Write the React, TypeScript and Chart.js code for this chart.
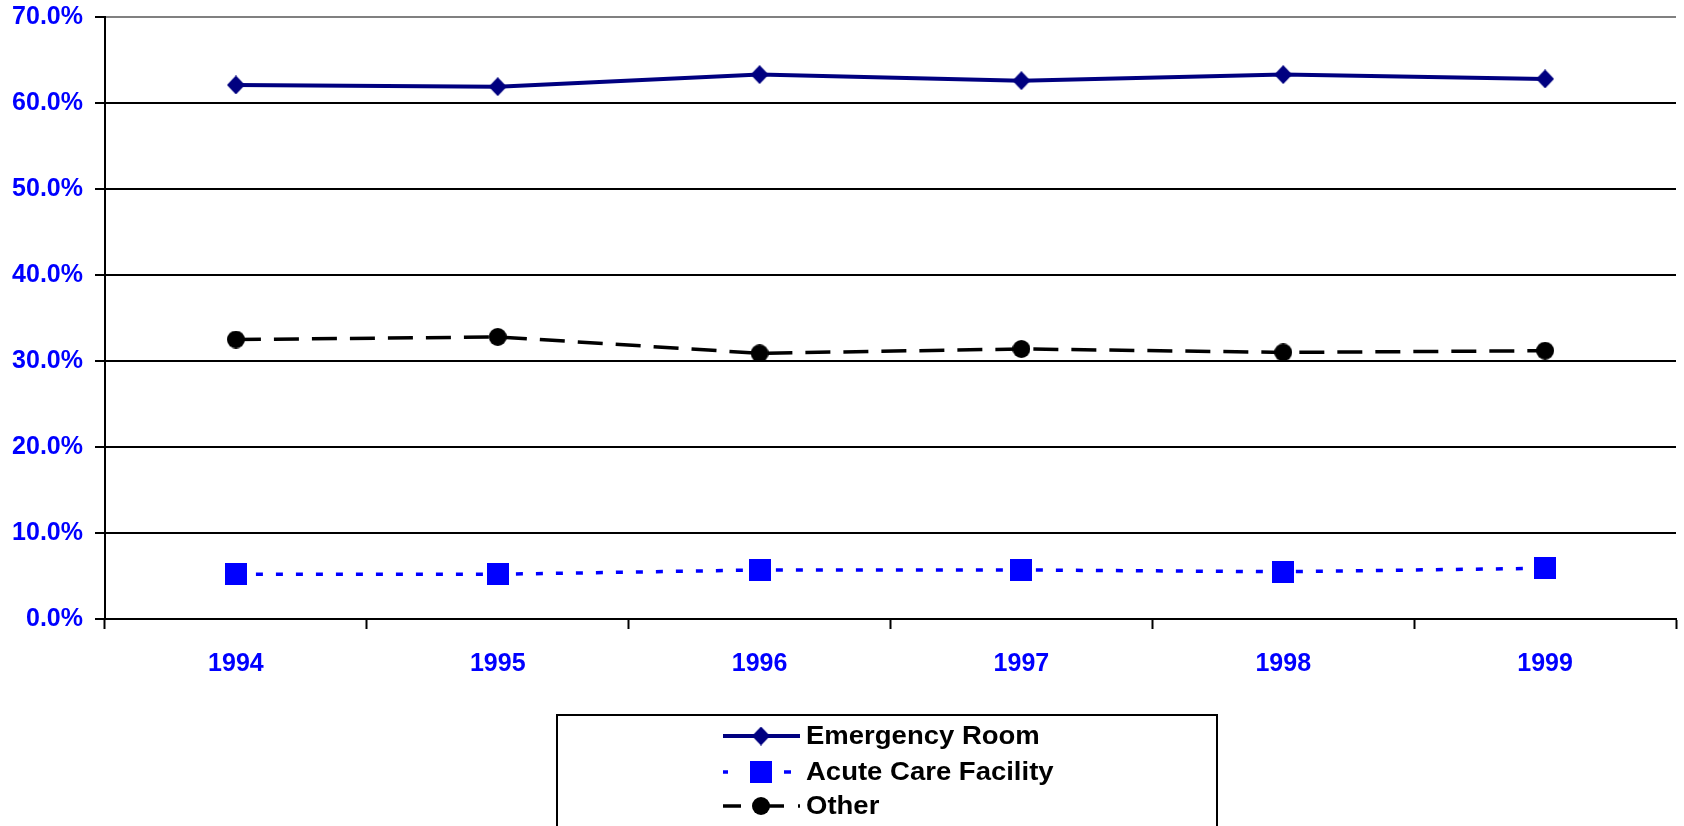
import React, { useEffect, useRef } from 'react';
import { Chart, registerables } from 'chart.js';

Chart.register(...registerables);

const years = ['1994', '1995', '1996', '1997', '1998', '1999'];
const emergencyRoom = [62.1, 61.9, 63.3, 62.6, 63.3, 62.8];
const acuteCare = [5.2, 5.2, 5.7, 5.7, 5.5, 5.9];
const other = [32.5, 32.8, 30.9, 31.4, 31.0, 31.2];
const seriesNames = ['Emergency Room', 'Acute Care Facility', 'Other'];
const yMin = 0;
const yMax = 70;
const yStep = 10;

const FONT = '"Liberation Sans", Arial, Helvetica, sans-serif';
const W = 1684;
const H = 826;

function makeMarker(shape: string, w: number, h: number, color: string) {
  const c = document.createElement('canvas');
  c.width = w;
  c.height = h;
  const ctx = c.getContext('2d') as CanvasRenderingContext2D;
  ctx.fillStyle = color;
  ctx.beginPath();
  if (shape === 'diamond') {
    ctx.moveTo(w / 2, 0);
    ctx.lineTo(w, h / 2);
    ctx.lineTo(w / 2, h);
    ctx.lineTo(0, h / 2);
    ctx.closePath();
  } else if (shape === 'square') {
    ctx.rect(0, 0, w, h);
  } else {
    ctx.ellipse(w / 2, h / 2, w / 2, h / 2, 0, 0, Math.PI * 2);
  }
  ctx.fill();
  return c;
}

// legend sample segments [x0, x1] per row (styling of the legend box)
const legendSegments = [
  [[723, 800]],
  [[723, 728], [784, 791]],
  [[723, 741], [767, 784], [798, 800]],
];

const legendPlugin = {
  id: 'boxLegend',
  afterDraw(chart: any) {
    const ctx = chart.ctx as CanvasRenderingContext2D;
    ctx.save();
    ctx.strokeStyle = '#000';
    ctx.lineWidth = 2;
    ctx.setLineDash([]);
    ctx.strokeRect(557, 715, 660, 200);
    const rows = [736, 772, 806];
    chart.data.datasets.forEach((ds: any, i: number) => {
      const y = rows[i];
      ctx.strokeStyle = ds.borderColor;
      ctx.lineWidth = ds.borderWidth;
      ctx.setLineDash([]);
      legendSegments[i].forEach((seg) => {
        ctx.beginPath();
        ctx.moveTo(seg[0], y);
        ctx.lineTo(seg[1], y);
        ctx.stroke();
      });
      const img = ds.pointStyle as HTMLCanvasElement;
      ctx.drawImage(img, 761 - img.width / 2, y - img.height / 2);
      ctx.save();
      ctx.translate(806, y);
      ctx.scale(1.1, 1);
      ctx.fillStyle = '#000';
      ctx.font = `bold 25px ${FONT}`;
      ctx.textBaseline = 'middle';
      ctx.textAlign = 'left';
      ctx.fillText(ds.label, 0, 1);
      ctx.restore();
    });
    ctx.restore();
  },
};

export default function App() {
  const ref = useRef<HTMLCanvasElement | null>(null);

  useEffect(() => {
    if (!ref.current) return;
    const diamond = makeMarker('diamond', 18, 19, '#000080');
    const square = makeMarker('square', 22, 22, '#0000FF');
    const circle = makeMarker('circle', 18, 18, '#000000');

    const chart = new Chart(ref.current, {
      type: 'line',
      data: {
        labels: years,
        datasets: [
          {
            label: seriesNames[0],
            data: emergencyRoom,
            borderColor: '#000080',
            backgroundColor: '#000080',
            borderWidth: 4,
            pointStyle: diamond as any,
            tension: 0,
          },
          {
            label: seriesNames[1],
            data: acuteCare,
            borderColor: '#0000FF',
            backgroundColor: '#0000FF',
            borderWidth: 3.5,
            borderDash: [7, 13],
            pointStyle: square as any,
            tension: 0,
          },
          {
            label: seriesNames[2],
            data: other,
            borderColor: '#000000',
            backgroundColor: '#000000',
            borderWidth: 3.5,
            borderDash: [25, 13],
            pointStyle: circle as any,
            tension: 0,
          },
        ],
      },
      options: {
        animation: false,
        responsive: false,
        maintainAspectRatio: false,
        layout: { padding: { top: 17, left: 0, right: 0, bottom: 0 } },
        plugins: {
          legend: { display: false },
          tooltip: { enabled: false },
        },
        scales: {
          x: {
            type: 'category',
            offset: true,
            afterFit: (scale: any) => {
              scale.height = H - 619;
              scale.paddingLeft = 0;
              scale.paddingRight = 0;
            },
            grid: {
              display: true,
              offset: true,
              drawOnChartArea: false,
              drawTicks: true,
              tickLength: 10,
              tickColor: '#000',
              tickWidth: 2,
              color: '#000',
            },
            border: { display: true, color: '#000', width: 2 },
            ticks: {
              color: '#0000FF',
              padding: 20,
              font: { family: FONT, size: 25, weight: 'bold' },
              maxRotation: 0,
            },
          },
          y: {
            min: yMin,
            max: yMax,
            afterFit: (scale: any) => {
              scale.width = 105;
              scale.paddingTop = 0;
              scale.paddingBottom = 0;
            },
            grid: {
              color: (c: any) => (c.tick && c.tick.value === yMax ? '#808080' : '#000'),
              lineWidth: 2,
              drawTicks: true,
              tickLength: 10,
              tickColor: '#000',
              tickWidth: 2,
            },
            border: { display: true, color: '#000', width: 2 },
            ticks: {
              stepSize: yStep,
              color: '#0000FF',
              padding: 12,
              font: { family: FONT, size: 25, weight: 'bold' },
              callback: (v: any) => Number(v).toFixed(1) + '%',
            },
          },
        },
      },
      plugins: [legendPlugin],
    } as any);

    return () => chart.destroy();
  }, []);

  return (
    <div style={{ position: 'fixed', left: 0, top: 0, width: W, height: H, background: '#fff' }}>
      <canvas ref={ref} width={W} height={H} style={{ width: W, height: H, display: 'block' }} />
    </div>
  );
}
